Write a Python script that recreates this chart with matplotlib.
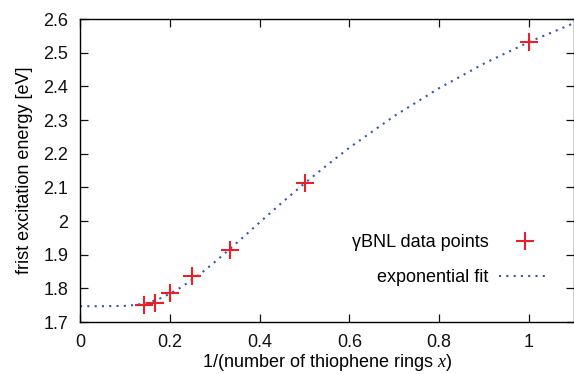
import matplotlib
matplotlib.use("Agg")
import matplotlib.pyplot as plt

# gammaBNL first excitation energies vs 1/(number of thiophene rings)
inv_rings = [1/7, 1/6, 1/5, 1/4, 1/3, 1/2, 1.0]
energy = [1.750, 1.757, 1.787, 1.838, 1.913, 2.112, 2.532]

# exponential fit curve
fit_x = [0.0, 0.05, 0.10, 0.125, 0.15, 0.175, 0.20, 0.225, 0.25, 0.275, 0.30,
         0.333, 0.375, 0.40, 0.45, 0.50, 0.55, 0.60, 0.70, 0.80, 0.90, 1.0, 1.1]
fit_y = [1.747, 1.747, 1.748, 1.751, 1.757, 1.768, 1.784, 1.803, 1.826, 1.851, 1.878,
         1.916, 1.966, 1.996, 2.055, 2.112, 2.166, 2.218, 2.312, 2.395, 2.468, 2.532, 2.588]

x_ticks = [0, 0.2, 0.4, 0.6, 0.8, 1.0]
x_tick_labels = ["0", "0.2", "0.4", "0.6", "0.8", "1"]
y_ticks = [1.7, 1.8, 1.9, 2.0, 2.1, 2.2, 2.3, 2.4, 2.5, 2.6]
y_tick_labels = ["1.7", "1.8", "1.9", "2", "2.1", "2.2", "2.3", "2.4", "2.5", "2.6"]

plt.rcParams["font.family"] = ["Liberation Sans", "DejaVu Sans"]
plt.rcParams["mathtext.fontset"] = "custom"
plt.rcParams["mathtext.it"] = "Liberation Serif:italic"
plt.rcParams["mathtext.rm"] = "Liberation Sans"

fig = plt.figure(figsize=(5.74, 3.74), dpi=100)
ax = fig.add_axes([0.1394, 0.139, 0.8605, 0.810])

ax.plot(inv_rings, energy, linestyle="none", marker="+", markersize=13,
        markeredgewidth=1.5, color="#e8202a", label="γBNL data points", zorder=3)
ax.plot(fit_x, fit_y, linestyle=(0, (1.0, 2.5)), lw=1.5, color="#3a55a8",
        label="exponential fit", zorder=2)

ax.set_xlim(0, 1.1)
ax.set_ylim(1.7, 2.6)
ax.set_xticks(x_ticks)
ax.set_xticklabels(x_tick_labels)
ax.set_yticks(y_ticks)
ax.set_yticklabels(y_tick_labels)
ax.tick_params(direction="in", length=6, width=0.9, top=True, right=True,
               labelsize=13, pad=8.5, colors="#111111")
for s in ax.spines.values():
    s.set_linewidth(1.0)

ax.set_xlabel("1/(number of thiophene rings $x$)", fontsize=13, labelpad=1)
ax.set_ylabel("frist excitation energy [eV]", fontsize=13, labelpad=7)

ax.legend(loc="center right", bbox_to_anchor=(0.984, 0.205), frameon=False,
          markerfirst=False, fontsize=13, handlelength=2.8, labelspacing=1.0,
          handletextpad=0.6)

plt.savefig("out.png", dpi=100)
plt.close()
